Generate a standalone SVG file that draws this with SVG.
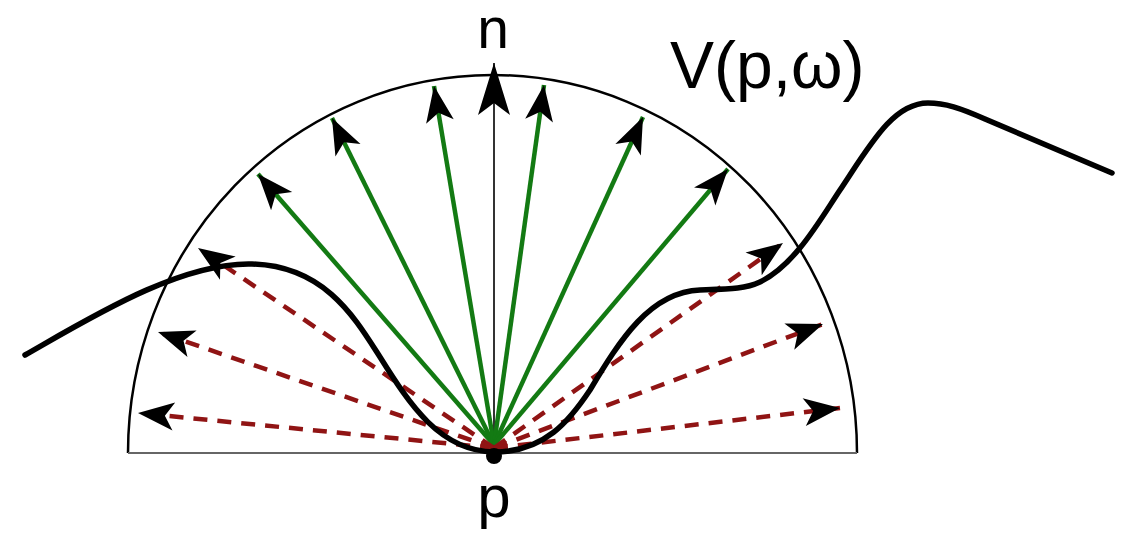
<svg xmlns="http://www.w3.org/2000/svg" width="1122" height="537" viewBox="0 0 1122 537">
<style>
.lbl{font-family:"Liberation Sans",Arial,sans-serif;fill:#000}
.g{stroke:#137a13;stroke-width:4.5;fill:none;marker-end:url(#ah)}
.r{stroke:#901414;stroke-width:4.5;fill:none;stroke-dasharray:14 10;marker-end:url(#ah)}
</style>
<defs>
<marker id="ah" markerUnits="userSpaceOnUse" markerWidth="40" markerHeight="32" viewBox="-38 -16 40 32" refX="0" refY="0" orient="auto">
<path d="M0,0 L-36,-14 L-27,0 L-36,14 Z" fill="#000"/>
</marker>
<marker id="ahn" markerUnits="userSpaceOnUse" markerWidth="56" markerHeight="36" viewBox="-54 -18 56 36" refX="0" refY="0" orient="auto">
<path d="M0,0 L-52,-16 L-40,0 L-52,16 Z" fill="#000"/>
</marker>
</defs>
<g id="hemisphere">
<path d="M128,453 A364.5,378 0 0 1 857,453" fill="none" stroke="#000" stroke-width="2.5"/>
<line x1="128" y1="453" x2="857" y2="453" stroke="#666" stroke-width="2"/>
</g>
<g id="connectors">
<line x1="494" y1="453" x2="494" y2="63" stroke="#333" stroke-width="2" marker-end="url(#ahn)"/>
<line class="g" x1="494" y1="445" x2="258" y2="174"/>
<line class="g" x1="494" y1="445" x2="332" y2="118"/>
<line class="g" x1="494" y1="445" x2="434" y2="86"/>
<line class="g" x1="494" y1="445" x2="544" y2="85"/>
<line class="g" x1="494" y1="445" x2="643" y2="117"/>
<line class="g" x1="494" y1="445" x2="728" y2="169"/>
<line class="r" x1="494" y1="448" x2="198" y2="248"/>
<line class="r" x1="494" y1="448" x2="158" y2="332"/>
<line class="r" x1="494" y1="448" x2="138" y2="413"/>
<line class="r" x1="494" y1="448" x2="783" y2="243"/>
<line class="r" x1="494" y1="448" x2="823" y2="324"/>
<line class="r" x1="494" y1="448" x2="840" y2="408"/>
</g>
<g id="surface">
<path d="M25,355 C90,318 180,262 252,264 C325,266 355,318 380,357 C410,405 440,451 494,452 C545,452 570,420 590,390 C620,340 650,292 700,290 C730,289 745,289 760,282 C795,265 820,220 840,190 C870,145 893,103 928,103 C945,103 960,108 985,119 L1112,173" fill="none" stroke="#000" stroke-width="5.5" stroke-linecap="round"/>
</g>
<g id="point-p">
<circle cx="494" cy="456" r="8" fill="#000"/>
<text class="lbl" x="494" y="517" font-size="60" text-anchor="middle">p</text>
</g>
<g id="label-n">
<text class="lbl" x="493" y="48" font-size="57" text-anchor="middle">n</text>
</g>
<g id="label-V">
<text class="lbl" x="670" y="88" font-size="66">V(p,ω)</text>
</g>
</svg>
